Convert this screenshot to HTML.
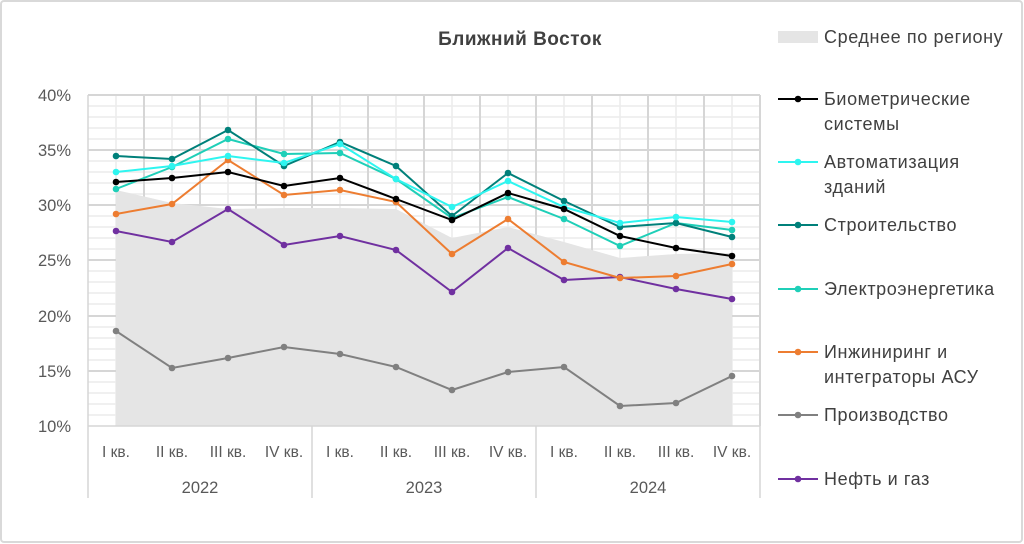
<!DOCTYPE html>
<html><head><meta charset="utf-8"><style>
html,body{margin:0;padding:0;background:#fff}
svg{display:block;font-family:"Liberation Sans",sans-serif}
</style></head><body>
<svg width="1024" height="544" viewBox="0 0 1024 544">
<defs>
<marker id="mg" markerUnits="userSpaceOnUse" markerWidth="8" markerHeight="8" refX="4" refY="4"><circle cx="4" cy="4" r="3.3" fill="#808080"/></marker>
<marker id="mp" markerUnits="userSpaceOnUse" markerWidth="8" markerHeight="8" refX="4" refY="4"><circle cx="4" cy="4" r="3.3" fill="#7030a0"/></marker>
<marker id="mo" markerUnits="userSpaceOnUse" markerWidth="8" markerHeight="8" refX="4" refY="4"><circle cx="4" cy="4" r="3.3" fill="#ed7d31"/></marker>
<marker id="me" markerUnits="userSpaceOnUse" markerWidth="8" markerHeight="8" refX="4" refY="4"><circle cx="4" cy="4" r="3.3" fill="#1fcfb8"/></marker>
<marker id="ms" markerUnits="userSpaceOnUse" markerWidth="8" markerHeight="8" refX="4" refY="4"><circle cx="4" cy="4" r="3.3" fill="#00807a"/></marker>
<marker id="ma" markerUnits="userSpaceOnUse" markerWidth="8" markerHeight="8" refX="4" refY="4"><circle cx="4" cy="4" r="3.3" fill="#2ef5f0"/></marker>
<marker id="mb" markerUnits="userSpaceOnUse" markerWidth="8" markerHeight="8" refX="4" refY="4"><circle cx="4" cy="4" r="3.3" fill="#000"/></marker>
</defs>
<rect x="1" y="1" width="1021" height="541" rx="3" fill="#fff" stroke="#d9d9d9" stroke-width="2"/>
<g stroke="#ececec" stroke-width="1.5">
<line x1="88" x2="760" y1="106" y2="106"/><line x1="88" x2="760" y1="117" y2="117"/><line x1="88" x2="760" y1="128" y2="128"/><line x1="88" x2="760" y1="139" y2="139"/>
<line x1="88" x2="760" y1="161" y2="161"/><line x1="88" x2="760" y1="172" y2="172"/><line x1="88" x2="760" y1="183" y2="183"/><line x1="88" x2="760" y1="194" y2="194"/>
<line x1="88" x2="760" y1="216" y2="216"/><line x1="88" x2="760" y1="227" y2="227"/><line x1="88" x2="760" y1="238" y2="238"/><line x1="88" x2="760" y1="249" y2="249"/>
<line x1="88" x2="760" y1="271" y2="271"/><line x1="88" x2="760" y1="282" y2="282"/><line x1="88" x2="760" y1="293" y2="293"/><line x1="88" x2="760" y1="304" y2="304"/>
<line x1="88" x2="760" y1="327" y2="327"/><line x1="88" x2="760" y1="338" y2="338"/><line x1="88" x2="760" y1="349" y2="349"/><line x1="88" x2="760" y1="360" y2="360"/>
<line x1="88" x2="760" y1="382" y2="382"/><line x1="88" x2="760" y1="393" y2="393"/><line x1="88" x2="760" y1="404" y2="404"/><line x1="88" x2="760" y1="415" y2="415"/>
<line y1="95" y2="426" x1="116" x2="116"/><line y1="95" y2="426" x1="172" x2="172"/><line y1="95" y2="426" x1="228" x2="228"/><line y1="95" y2="426" x1="284" x2="284"/><line y1="95" y2="426" x1="340" x2="340"/><line y1="95" y2="426" x1="396" x2="396"/><line y1="95" y2="426" x1="452" x2="452"/><line y1="95" y2="426" x1="508" x2="508"/><line y1="95" y2="426" x1="564" x2="564"/><line y1="95" y2="426" x1="620" x2="620"/><line y1="95" y2="426" x1="676" x2="676"/><line y1="95" y2="426" x1="732" x2="732"/>
</g>
<g stroke="#d6d6d6" stroke-width="2">
<line x1="88" x2="760" y1="95" y2="95"/><line x1="88" x2="760" y1="150" y2="150"/><line x1="88" x2="760" y1="205" y2="205"/><line x1="88" x2="760" y1="260" y2="260"/><line x1="88" x2="760" y1="316" y2="316"/><line x1="88" x2="760" y1="371" y2="371"/>
<line y1="95" y2="426" x1="144" x2="144"/><line y1="95" y2="426" x1="200" x2="200"/><line y1="95" y2="426" x1="256" x2="256"/><line y1="95" y2="426" x1="312" x2="312"/><line y1="95" y2="426" x1="368" x2="368"/><line y1="95" y2="426" x1="424" x2="424"/><line y1="95" y2="426" x1="480" x2="480"/><line y1="95" y2="426" x1="536" x2="536"/><line y1="95" y2="426" x1="592" x2="592"/><line y1="95" y2="426" x1="648" x2="648"/><line y1="95" y2="426" x1="704" x2="704"/><line y1="95" y2="426" x1="760" x2="760"/>
</g>
<polygon fill="#e5e5e5" points="116,426 116,190 172,203 228,209 284,208 340,208 396,209 452,238 508,227 564,242 620,258 676,254 732,253 732,426"/>
<g stroke="#d6d6d6" stroke-width="1.5">
<line x1="88" x2="760" y1="426" y2="426"/>
<line x1="88" x2="88" y1="95" y2="498"/><line x1="312" x2="312" y1="426" y2="498"/><line x1="536" x2="536" y1="426" y2="498"/><line x1="760" x2="760" y1="426" y2="498"/>
</g>
<g fill="none" stroke-width="2">
<polyline stroke="#808080" marker-start="url(#mg)" marker-mid="url(#mg)" marker-end="url(#mg)" points="116,331 172,368 228,358 284,347 340,354 396,367 452,390 508,372 564,367 620,406 676,403 732,376"/>
<polyline stroke="#7030a0" marker-start="url(#mp)" marker-mid="url(#mp)" marker-end="url(#mp)" points="116,231 172,242 228,209 284,245 340,236 396,250 452,292 508,248 564,280 620,277 676,289 732,299"/>
<polyline stroke="#ed7d31" marker-start="url(#mo)" marker-mid="url(#mo)" marker-end="url(#mo)" points="116,214 172,204 228,160 284,195 340,190 396,202 452,254 508,219 564,262 620,278 676,276 732,264"/>
<polyline stroke="#1fcfb8" marker-start="url(#me)" marker-mid="url(#me)" marker-end="url(#me)" points="116,189 172,167 228,139 284,154 340,153 396,179 452,218 508,197 564,219 620,246 676,223 732,230"/>
<polyline stroke="#00807a" marker-start="url(#ms)" marker-mid="url(#ms)" marker-end="url(#ms)" points="116,156 172,159 228,130 284,166 340,142 396,166 452,216 508,173 564,201 620,227 676,223 732,237"/>
<polyline stroke="#2ef5f0" marker-start="url(#ma)" marker-mid="url(#ma)" marker-end="url(#ma)" points="116,172 172,166 228,156 284,163 340,144 396,179 452,207 508,181 564,207 620,223 676,217 732,222"/>
<polyline stroke="#000" marker-start="url(#mb)" marker-mid="url(#mb)" marker-end="url(#mb)" points="116,182 172,178 228,172 284,186 340,178 396,199 452,220 508,193 564,209 620,236 676,248 732,256"/>
</g>
<g font-size="16.5" fill="#595959" text-anchor="end">
<text x="71" y="101">40%</text><text x="71" y="156">35%</text><text x="71" y="211">30%</text><text x="71" y="266">25%</text><text x="71" y="322">20%</text><text x="71" y="377">15%</text><text x="71" y="432">10%</text>
</g>
<g font-size="15.5" fill="#595959" text-anchor="middle">
<text x="116" y="457">I кв.</text><text x="172" y="457">II кв.</text><text x="228" y="457">III кв.</text><text x="284" y="457">IV кв.</text>
<text x="340" y="457">I кв.</text><text x="396" y="457">II кв.</text><text x="452" y="457">III кв.</text><text x="508" y="457">IV кв.</text>
<text x="564" y="457">I кв.</text><text x="620" y="457">II кв.</text><text x="676" y="457">III кв.</text><text x="732" y="457">IV кв.</text>
<text x="200" y="493" font-size="16.5">2022</text><text x="424" y="493" font-size="16.5">2023</text><text x="648" y="493" font-size="16.5">2024</text>
</g>
<text x="520" y="45" font-size="19" font-weight="bold" fill="#404040" text-anchor="middle" letter-spacing="0.5">Ближний Восток</text>
<g font-size="18" fill="#404040" letter-spacing="0.6">
<rect x="778" y="31" width="40" height="12" fill="#e5e5e5"/><text x="824" y="43">Среднее по региону</text>
<line x1="778" x2="818" y1="99" y2="99" stroke="#000" stroke-width="2"/><circle cx="798" cy="99" r="3.3" fill="#000"/><text x="824" y="105">Биометрические</text><text x="824" y="130">системы</text>
<line x1="778" x2="818" y1="162" y2="162" stroke="#2ef5f0" stroke-width="2"/><circle cx="798" cy="162" r="3.3" fill="#2ef5f0"/><text x="824" y="168">Автоматизация</text><text x="824" y="193">зданий</text>
<line x1="778" x2="818" y1="225" y2="225" stroke="#00807a" stroke-width="2"/><circle cx="798" cy="225" r="3.3" fill="#00807a"/><text x="824" y="231">Строительство</text>
<line x1="778" x2="818" y1="289" y2="289" stroke="#1fcfb8" stroke-width="2"/><circle cx="798" cy="289" r="3.3" fill="#1fcfb8"/><text x="824" y="295">Электроэнергетика</text>
<line x1="778" x2="818" y1="352" y2="352" stroke="#ed7d31" stroke-width="2"/><circle cx="798" cy="352" r="3.3" fill="#ed7d31"/><text x="824" y="358">Инжиниринг и</text><text x="824" y="383">интеграторы АСУ</text>
<line x1="778" x2="818" y1="415" y2="415" stroke="#808080" stroke-width="2"/><circle cx="798" cy="415" r="3.3" fill="#808080"/><text x="824" y="421">Производство</text>
<line x1="778" x2="818" y1="479" y2="479" stroke="#7030a0" stroke-width="2"/><circle cx="798" cy="479" r="3.3" fill="#7030a0"/><text x="824" y="485">Нефть и газ</text>
</g>
</svg>
</body></html>
